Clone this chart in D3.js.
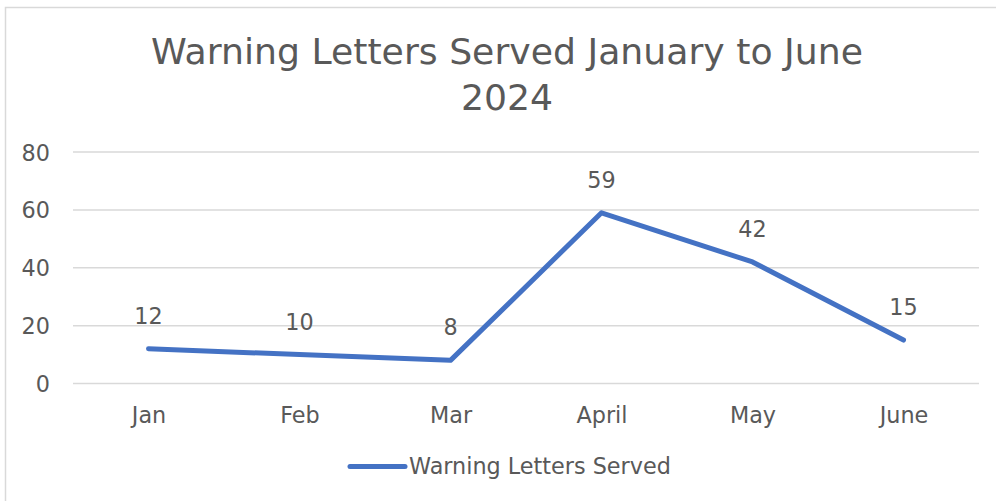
<!DOCTYPE html>
<html><head><meta charset="utf-8">
<script src="https://cdn.jsdelivr.net/npm/d3@7"></script>
<style>html,body{margin:0;padding:0;background:#fff;}svg{display:block;}</style>
</head><body>
<svg id="c" width="996" height="501"></svg>
<script>
const categories = ["Jan", "Feb", "Mar", "April", "May", "June"];
const values = [12, 10, 8, 59, 42, 15];
const yTicks = [0, 20, 40, 60, 80];
const seriesName = "Warning Letters Served";
const titleLines = ["Warning Letters Served January to June", "2024"];

const FONT = "'DejaVu Sans', sans-serif";
const TXT = "#595959";
const svg = d3.select("#c");

// measure helper to match text widths of reference
function measure(text, size) {
  const t = svg.append("text").attr("font-family", FONT).attr("font-size", size).text(text);
  const w = t.node().getComputedTextLength(); t.remove(); return w;
}
const titleSize = 100 * 712 / measure(titleLines[0], 100);
const labelSize = 100 * 262 / measure(seriesName, 100);

// chart border
svg.append("rect").attr("x", 5.5).attr("y", 7.5).attr("width", 1100).attr("height", 600)
  .attr("fill", "none").attr("stroke", "#d9d9d9").attr("stroke-width", 1.5);

const x = d3.scalePoint().domain(categories).range([73, 979]).padding(0.5);
const y = d3.scaleLinear().domain([0, 80]).range([383.5, 152]);

// gridlines
svg.append("g").selectAll("line").data(yTicks).join("line")
  .attr("x1", 73).attr("x2", 979)
  .attr("y1", d => y(d)).attr("y2", d => y(d))
  .attr("stroke", "#d9d9d9").attr("stroke-width", 1.5);

// y axis labels
const yAxis = d3.axisLeft(y).tickValues(yTicks).tickSize(0).tickPadding(0);
const gy = svg.append("g").attr("transform", "translate(50,0)").call(yAxis);
gy.select(".domain").remove();
gy.selectAll("text").attr("font-family", FONT).attr("font-size", labelSize).attr("fill", TXT).attr("dy", "0.36em");

// x axis labels
const xAxis = d3.axisBottom(x).tickSize(0).tickPadding(0);
const gx = svg.append("g").attr("transform", "translate(0,423)").call(xAxis);
gx.select(".domain").remove();
gx.selectAll("text").attr("font-family", FONT).attr("font-size", labelSize).attr("fill", TXT).attr("dy", 0);

// line
const data = categories.map((c, i) => ({c, v: values[i]}));
svg.append("path").datum(data)
  .attr("d", d3.line().x(d => x(d.c)).y(d => y(d.v)))
  .attr("fill", "none").attr("stroke", "#4472C4").attr("stroke-width", 5)
  .attr("stroke-linejoin", "round").attr("stroke-linecap", "round");

// data labels
svg.append("g").selectAll("text").data(data).join("text")
  .attr("x", d => x(d.c)).attr("y", d => y(d.v) - 25)
  .attr("text-anchor", "middle").attr("font-family", FONT).attr("font-size", labelSize)
  .attr("fill", TXT).text(d => d.v);

// title
svg.append("g").selectAll("text").data(titleLines).join("text")
  .attr("x", 507).attr("y", (d, i) => 64 + i * 46)
  .attr("text-anchor", "middle").attr("font-family", FONT).attr("font-size", titleSize)
  .attr("fill", TXT).text(d => d);

// legend
const lg = svg.append("g");
lg.append("line").attr("x1", 350).attr("x2", 405).attr("y1", 466.5).attr("y2", 466.5)
  .attr("stroke", "#4472C4").attr("stroke-width", 5).attr("stroke-linecap", "round");
lg.append("text").attr("x", 409).attr("y", 474).attr("font-family", FONT).attr("font-size", labelSize)
  .attr("fill", TXT).text(seriesName);
</script>
</body></html>
